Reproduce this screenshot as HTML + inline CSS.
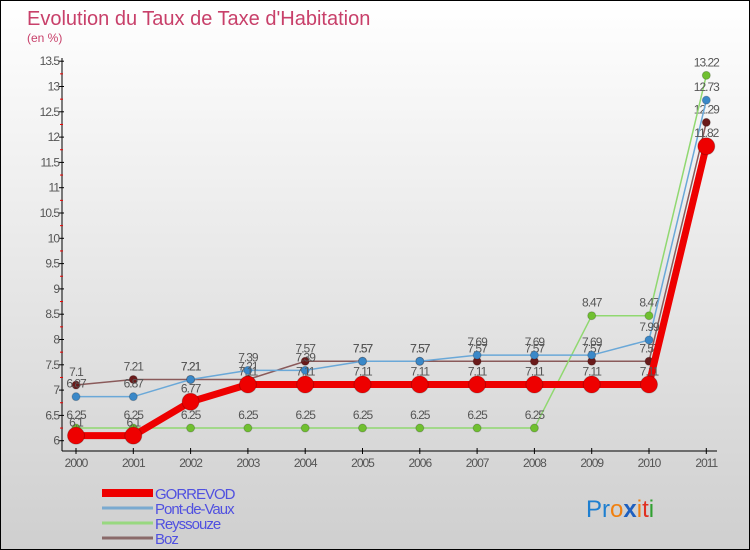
<!DOCTYPE html>
<html><head><meta charset="utf-8"><style>
body{margin:0}
#c{width:748px;height:548px;border:1px solid #000;background:linear-gradient(#fff,#cfcfcf);position:relative;overflow:hidden;font-family:"Liberation Sans",sans-serif}
</style></head><body>
<div id="c">
<svg id="s" width="748" height="548" style="position:absolute;left:0;top:0">
<text x="26" y="24" font-size="20" fill="#c8406a">Evolution du Taux de Taxe d'Habitation</text>
<text x="26" y="41" font-size="12" fill="#c8406a">(en %)</text>
<g id="axes"></g><g id="series"></g><g id="legend"></g>
<text x="585" y="516" font-size="24"><tspan fill="#1e7fd0">Pr</tspan><tspan fill="#f08010">o</tspan><tspan fill="#1e60c0" font-weight="bold">x</tspan><tspan fill="#f08010">i</tspan><tspan fill="#e03020">t</tspan><tspan fill="#30a030">i</tspan></text>
</svg>
</div>
<script>
const years=[2000,2001,2002,2003,2004,2005,2006,2007,2008,2009,2010,2011];
const yTicks=[6,6.5,7,7.5,8,8.5,9,9.5,10,10.5,11,11.5,12,12.5,13,13.5];
const gorrevod=[6.1,6.1,6.77,7.11,7.11,7.11,7.11,7.11,7.11,7.11,7.11,11.82];
const pontDeVaux=[6.87,6.87,7.21,7.39,7.39,7.57,7.57,7.69,7.69,7.69,7.99,12.73];
const reyssouze=[6.25,6.25,6.25,6.25,6.25,6.25,6.25,6.25,6.25,8.47,8.47,13.22];
const boz=[7.1,7.21,7.21,7.21,7.57,7.57,7.57,7.57,7.57,7.57,7.57,12.29];
const seriesNames=["GORREVOD","Pont-de-Vaux","Reyssouze","Boz"];
const NS="http://www.w3.org/2000/svg";
function X(i){return 75+i*57.3}
function Y(v){return 439.7-50.6*(v-6)}
function mk(p,t,a){const e=document.createElementNS(NS,t);for(const k in a)e.setAttribute(k,a[k]);p.appendChild(e);return e}
const ax=document.getElementById('axes');
let l=mk(ax,'line',{x1:61,y1:57,x2:61,y2:450,stroke:'#000'});


l=mk(ax,'line',{x1:61,y1:450,x2:716,y2:450,stroke:'#000'});


yTicks.forEach((v,k)=>{
 mk(ax,'line',{x1:58,y1:Y(v),x2:63,y2:Y(v),stroke:'#000'});
 if(k<yTicks.length-1)mk(ax,'line',{x1:59,y1:Y(v+0.25),x2:62,y2:Y(v+0.25),stroke:'#e00'});
 const t=mk(ax,'text',{x:58,y:Y(v)+4,'font-size':12,fill:'#555','text-anchor':'end','letter-spacing':'-1'});t.textContent=v;
 
 
});
years.forEach((y,i)=>{
 mk(ax,'line',{x1:X(i),y1:447,x2:X(i),y2:453,stroke:'#000'});
 const t=mk(ax,'text',{x:X(i),y:466,'font-size':12,fill:'#555','text-anchor':'middle','letter-spacing':'-1'});t.textContent=y;
 
 
});
const sg=document.getElementById('series');
const defs=[[boz,'#8a5a5a','#6a1a1a',1.5,4,'boz'],[reyssouze,'#90d870','#70c030',1.5,4,'reyssouze'],[pontDeVaux,'#6aa8d8','#3a88c8',1.5,4,'pont-de-vaux'],[gorrevod,'#ee0000','#ee0000',7,8.5,'gorrevod']];
defs.forEach(([d,lc,pc,w,r,n])=>{
 const g=mk(sg,'g',{});
 
 
 const pl=mk(g,'polyline',{points:d.map((v,i)=>X(i)+','+Y(v)).join(' '),fill:'none',stroke:lc,'stroke-width':w});
 
 
 d.forEach((v,i)=>{
  const c=mk(g,'circle',{cx:X(i),cy:Y(v),r:r,fill:pc,stroke:'rgba(0,0,0,0.2)'});
  
  
  const t=mk(g,'text',{x:X(i),y:Y(v)-9,'font-size':12,fill:'#555','text-anchor':'middle','letter-spacing':'-1'});t.textContent=v;
  
  
 });
});
const lg=document.getElementById('legend');
const lcol=['#ee0000','#7aaad0','#98d880','#8a6a6a'];
seriesNames.forEach((n,i)=>{
 const y=492+i*15;
 const ln=mk(lg,'line',{x1:101,y1:y,x2:152,y2:y,stroke:lcol[i],'stroke-width':i==0?8:3});
 
 
 const t=mk(lg,'text',{x:154,y:y+6,'font-size':15,fill:'#5050e0','letter-spacing':'-1'});t.textContent=n;
 
 
});
</script>
</body></html>
